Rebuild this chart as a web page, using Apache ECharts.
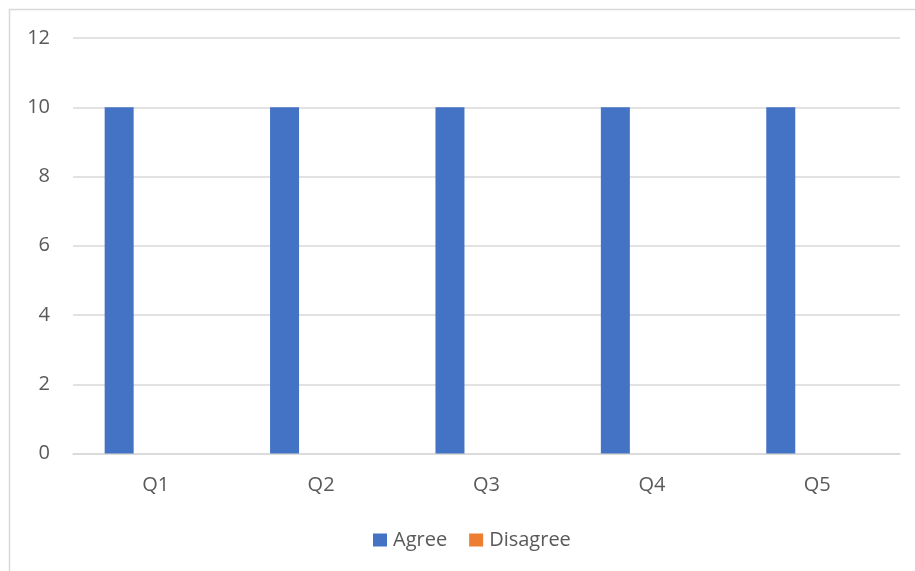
<!DOCTYPE html>
<html>
<head>
<meta charset="utf-8">
<script src="https://cdn.jsdelivr.net/npm/echarts@6/dist/echarts.min.js"></script>
<style>html,body{margin:0;padding:0;background:#fff}#c{width:915px;height:571px}</style>
</head>
<body>
<div id="c"></div>
<script>
const categories = ['Q1', 'Q2', 'Q3', 'Q4', 'Q5'];
const agree = [10, 10, 10, 10, 10];
const disagree = [0, 0, 0, 0, 0];
const yTicks = { min: 0, max: 12, interval: 2 };

const chart = echarts.init(document.getElementById('c'), null, { renderer: 'canvas' });
const font = '"Open Sans", "Noto Sans", sans-serif';
chart.setOption({
  animation: false,
  backgroundColor: '#fff',
  textStyle: { fontFamily: font },
  graphic: [{
    type: 'rect',
    shape: { x: 9.5, y: 9.5, width: 920, height: 580 },
    style: { fill: 'none', stroke: '#d9d9d9', lineWidth: 1.5 },
    silent: true, z: -1
  }],
  grid: { left: 73, right: 15, top: 38, bottom: 117.5, containLabel: false },
  legend: {
    bottom: 16, left: 368,
    itemWidth: 14, itemHeight: 13, itemGap: 22,
    icon: 'rect',
    textStyle: { color: '#595959', fontSize: 20, fontFamily: font, padding: [0, 0, 0, 1] },
    data: ['Agree', 'Disagree']
  },
  xAxis: {
    type: 'category', data: categories,
    axisLine: { show: true, lineStyle: { color: '#d9d9d9', width: 1.5 } },
    axisTick: { show: false },
    axisLabel: { color: '#595959', fontSize: 20, margin: 22, fontFamily: font }
  },
  yAxis: {
    type: 'value', min: yTicks.min, max: yTicks.max, interval: yTicks.interval,
    axisLine: { show: false }, axisTick: { show: false },
    splitLine: { lineStyle: { color: '#d9d9d9', width: 1.5 } },
    axisLabel: { color: '#595959', fontSize: 20, margin: 23, fontFamily: font }
  },
  series: [
    { name: 'Agree', type: 'bar', data: agree, barWidth: 29, barGap: '152%',
      itemStyle: { color: '#4472C4' } },
    { name: 'Disagree', type: 'bar', data: disagree, barWidth: 29,
      itemStyle: { color: '#ED7D31' } }
  ]
});
</script>
</body>
</html>
